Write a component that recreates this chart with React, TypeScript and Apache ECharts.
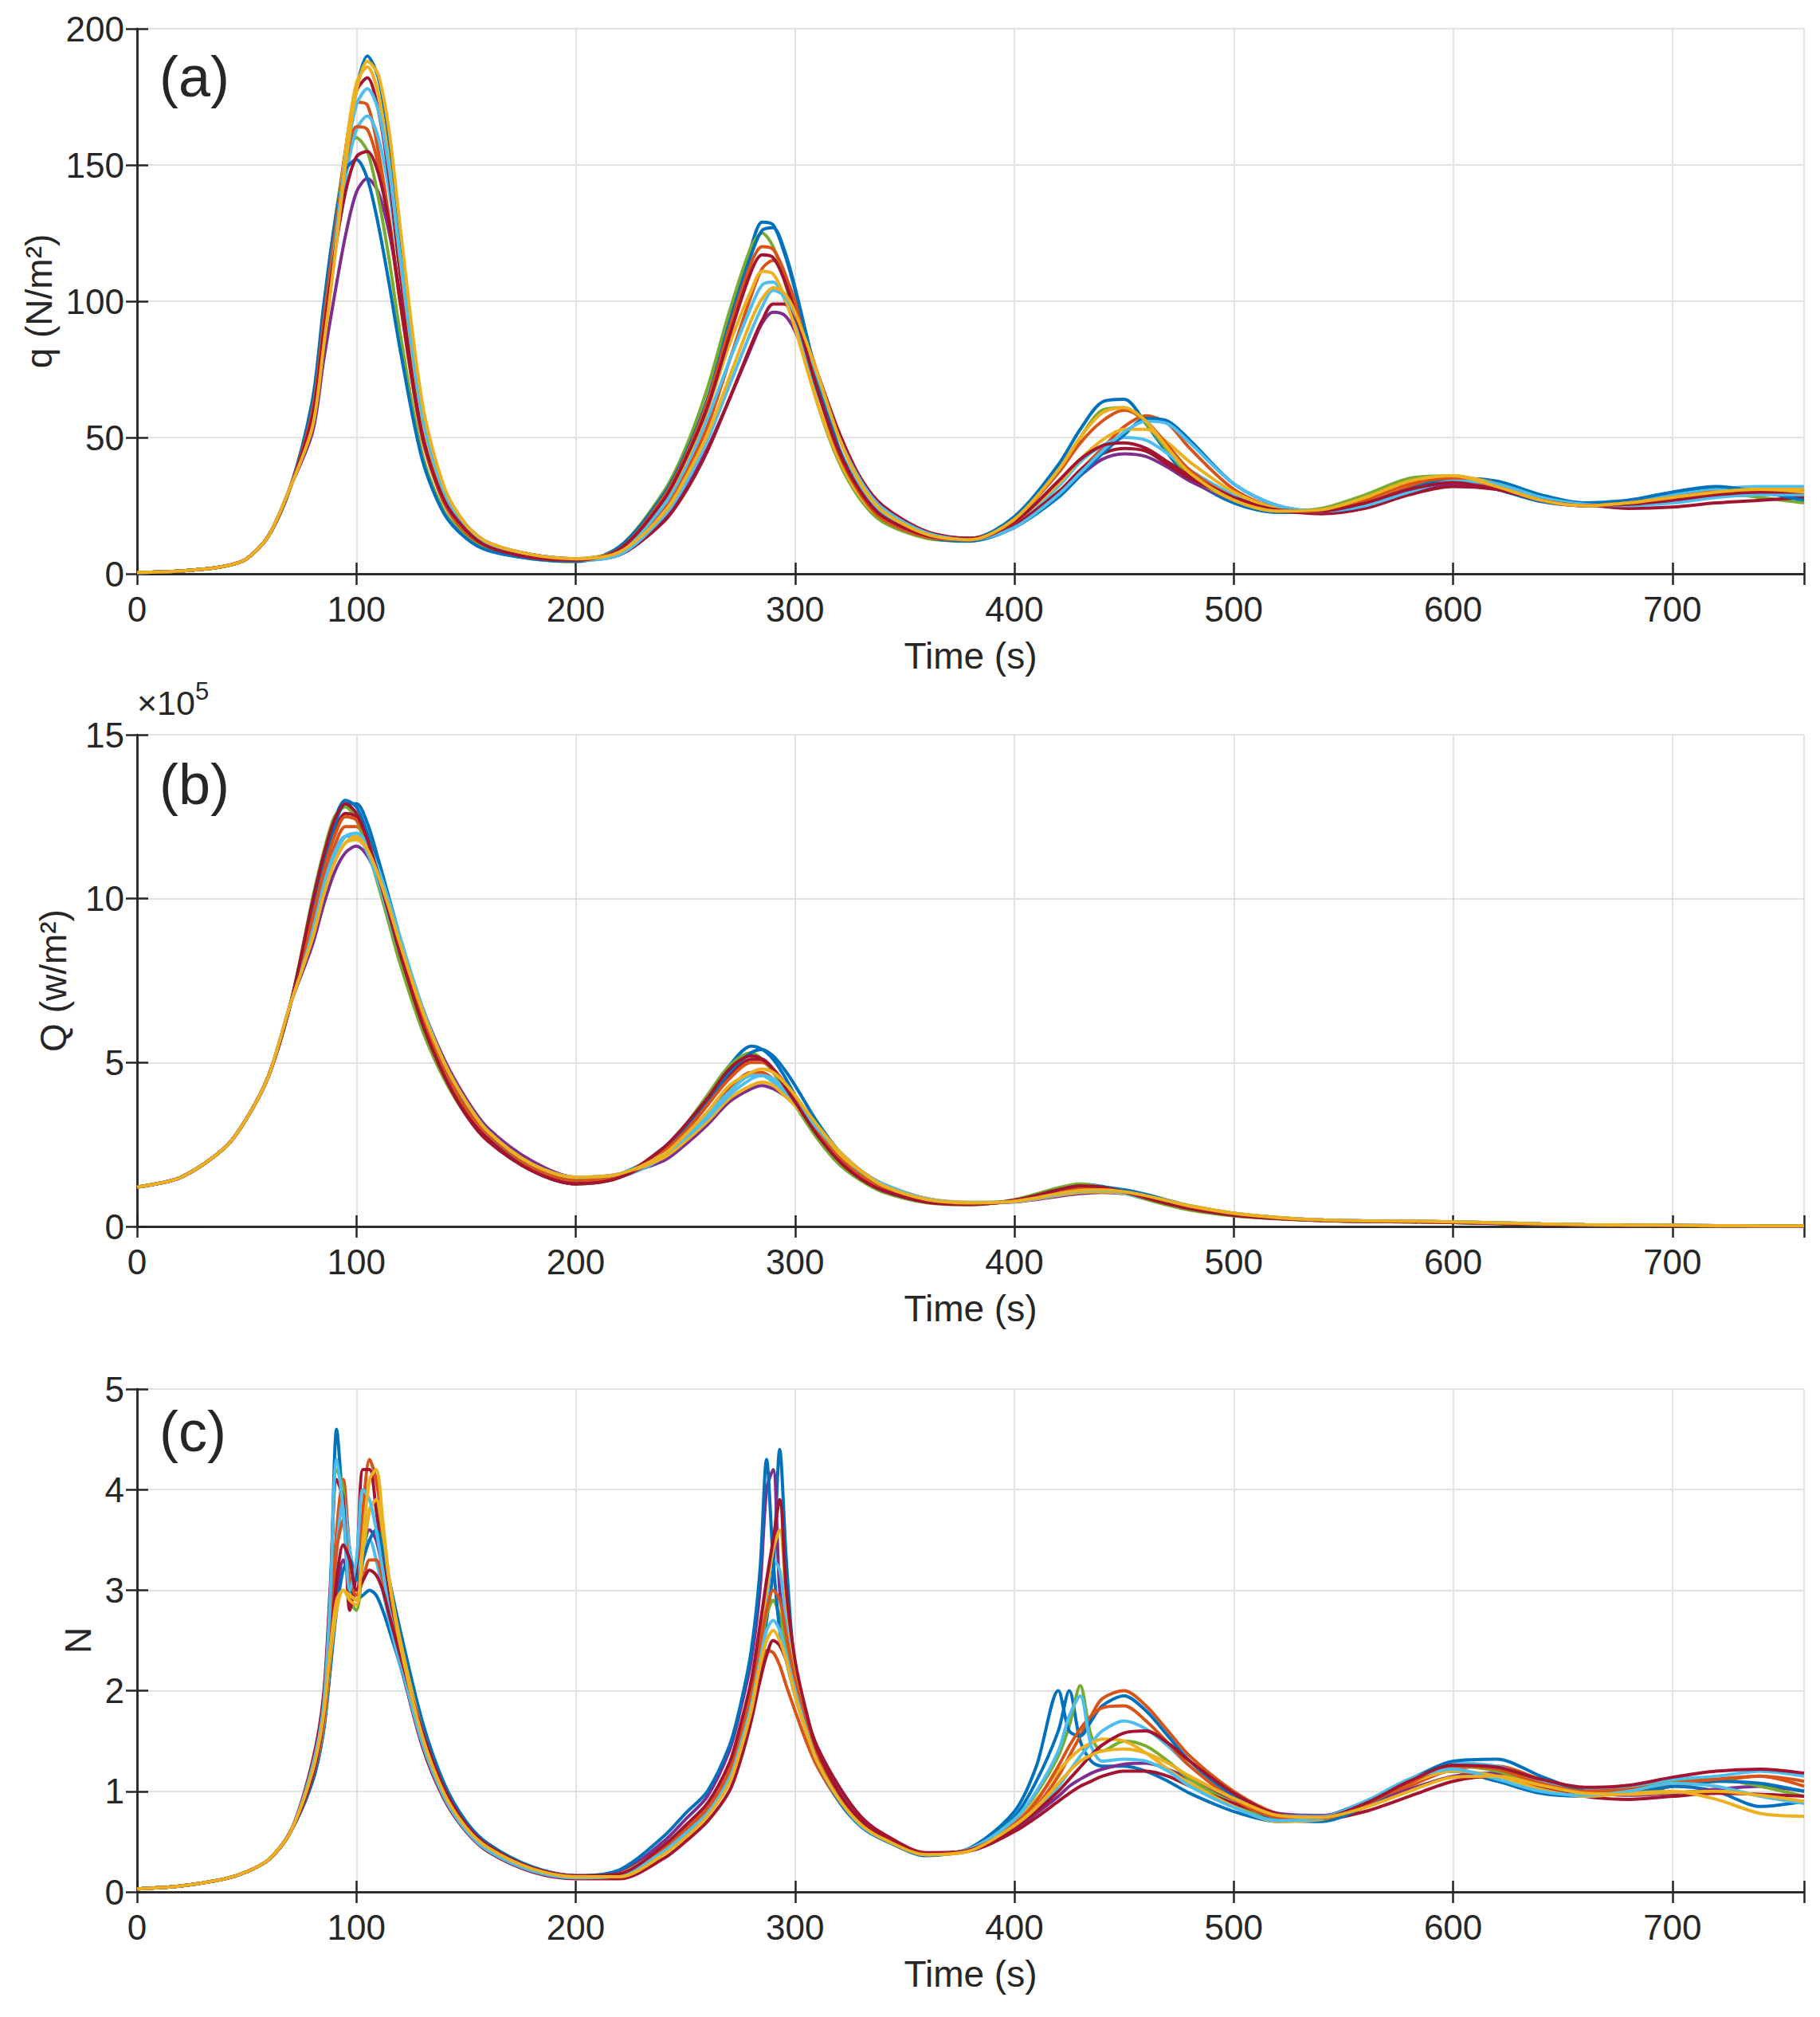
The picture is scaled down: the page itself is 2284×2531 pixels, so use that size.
import React, { useRef, useEffect } from 'react';
import * as echarts from 'echarts';

// time grid (s) shared by panels (a) and (b)
const T = [0, 20, 40, 50, 60, 70, 80, 85, 90, 95, 100, 105, 110, 115, 120, 130, 140, 150, 160, 180, 200, 220, 240, 250, 260, 270, 280, 285, 290, 295, 300, 310, 320, 330, 340, 360, 380, 400, 420, 430, 440, 450, 460, 470, 480, 500, 520, 540, 560, 580, 600, 620, 640, 660, 680, 700, 720, 740, 760];
// finer grid for panel (c)
const TC = [0, 20, 40, 50, 60, 70, 80, 85, 88, 91, 94, 97, 100, 103, 106, 109, 112, 115, 120, 130, 140, 150, 160, 180, 200, 220, 240, 250, 260, 270, 275, 280, 284, 287, 290, 293, 296, 300, 305, 310, 320, 330, 340, 360, 380, 400, 410, 420, 425, 430, 435, 440, 450, 460, 470, 480, 500, 520, 540, 560, 580, 600, 620, 640, 660, 680, 700, 720, 740, 760];

const X_TICKS = [0, 100, 200, 300, 400, 500, 600, 700];
const Q_TICKS = [0, 50, 100, 150, 200];
const HEAT_TICKS = [0, 5, 10, 15];
const N_TICKS = [0, 1, 2, 3, 4, 5];

// (a) dynamic pressure q, N/m2
const qRun1 = [0.5, 1, 2.8, 5.5, 14, 32, 55, 85, 118, 152, 178, 190, 182, 158, 122, 60, 30, 17, 11, 7, 5.5, 9, 27, 42, 62, 92, 120, 129, 128, 118, 104, 72, 46, 30, 21, 14, 13, 21, 40, 53, 63, 64, 55, 44, 35, 26, 22.5, 23, 28, 34, 35, 31, 26.5, 25, 27, 29, 31, 31, 30];
const qRun2 = [0.5, 1, 2.8, 5.5, 14, 32, 60, 92, 125, 155, 173, 172, 155, 130, 100, 50, 26, 15, 10, 6, 5, 8, 24, 37, 54, 78, 102, 112, 115, 110, 100, 74, 50, 33, 23, 15, 13, 18, 30, 38, 46, 54, 58, 55, 46, 31, 24, 23, 26, 32, 35.5, 33, 27, 25, 25.5, 27, 29, 30, 28];
const qRun3 = [0.5, 1, 2.8, 5.5, 14, 32, 52, 78, 102, 124, 140, 145, 140, 125, 102, 58, 31, 18, 11.5, 7, 5.5, 7, 20, 31, 46, 64, 83, 92, 96, 95, 89, 70, 50, 34, 24, 15, 12.5, 17, 29, 36, 42, 44, 43, 39, 34, 27, 23, 22.5, 25, 30, 33, 31, 27.5, 26, 26, 27, 28.5, 29, 31];
const qRun4 = [0.5, 1, 2.8, 5.5, 14, 32, 62, 95, 128, 152, 160, 155, 138, 115, 88, 44, 23, 14, 9, 5.5, 4.5, 10, 30, 46, 68, 96, 120, 125, 120, 108, 93, 63, 41, 27, 19, 13, 12, 20, 38, 50, 60, 61, 55, 45, 36, 27, 23, 24, 29, 35, 36, 32, 27, 25, 26, 28, 30, 28, 26];
const qRun5 = [0.5, 1, 2.8, 5.5, 14, 32, 57, 86, 117, 145, 163, 168, 160, 140, 110, 56, 29, 17, 11, 6.5, 5, 8, 25, 39, 57, 78, 98, 106, 107, 101, 91, 67, 46, 31, 22, 14, 12.5, 18, 32, 41, 47, 50, 49, 44, 38, 29, 24, 23, 26, 31, 34, 32, 28, 26, 27, 29, 31, 32, 32];
const qRun6 = [0.5, 1, 2.8, 5.5, 14, 32, 58, 88, 122, 155, 177, 182, 170, 145, 110, 54, 28, 16, 10.5, 6.5, 5, 7, 19, 30, 45, 64, 84, 93, 99, 99, 94, 74, 52, 35, 25, 15.5, 13, 18, 30, 38, 44, 46, 45, 40, 35, 28, 23.5, 22, 24, 29, 32, 31, 28, 25.5, 24, 24.5, 26, 27, 28];
const qRun7 = [0.5, 1, 2.8, 5.5, 14, 32, 64, 98, 128, 148, 152, 145, 128, 106, 82, 42, 22, 13, 8.5, 5.5, 4.5, 10, 29, 44, 64, 92, 117, 126, 127, 119, 105, 72, 46, 30, 21, 13.5, 12, 17, 28, 36, 44, 51, 57, 56, 49, 33, 25, 23, 25, 31, 35, 34, 29, 26, 27, 30, 32, 30, 27];
const qRun8 = [0.5, 1, 2.8, 5.5, 14, 32, 56, 86, 120, 155, 180, 186, 176, 150, 115, 57, 29, 17, 11, 6.5, 5.5, 9, 27, 41, 60, 84, 104, 111, 110, 102, 90, 63, 42, 28, 20, 13.5, 12.5, 19, 33, 42, 49, 53, 53, 48, 41, 30, 24, 23, 27, 33, 36, 33, 28, 25, 26, 28, 30, 31, 31];
const qRun9 = [0.5, 1, 2.8, 5.5, 14, 32, 60, 92, 124, 150, 164, 163, 150, 128, 99, 50, 26, 15, 10, 6, 5, 9, 28, 43, 63, 90, 114, 120, 119, 111, 98, 68, 44, 29, 20, 13.5, 12.5, 20, 37, 48, 56, 60, 56, 47, 38, 28, 23, 23, 27, 33, 35, 32, 27, 25, 26, 28, 30, 30, 29];
const qRun10 = [0.5, 1, 2.8, 5.5, 14, 32, 56, 86, 119, 151, 172, 178, 170, 148, 116, 58, 30, 17, 11, 6.5, 5, 7, 21, 33, 49, 69, 89, 98, 104, 102, 95, 73, 50, 34, 24, 15, 12.5, 17, 29, 37, 45, 52, 56, 55, 48, 33, 25, 23, 25, 30, 34, 33, 28, 25.5, 25, 26, 28, 29, 29];
const qRun11 = [0.5, 1, 2.8, 5.5, 14, 32, 58, 88, 117, 140, 153, 155, 147, 128, 100, 51, 27, 16, 10, 6, 5, 9, 27, 42, 61, 87, 111, 117, 116, 108, 96, 68, 45, 30, 21, 14, 12.5, 19, 34, 42, 47, 48, 46, 41, 36, 28, 23.5, 23, 26, 31, 33.5, 31, 27, 25, 25.5, 27, 29, 30, 30];
const qRun12 = [0.5, 1, 2.8, 5.5, 14, 32, 54, 83, 115, 150, 177, 188, 183, 162, 127, 63, 32, 18, 11.5, 7, 5.5, 8, 22, 35, 51, 72, 93, 101, 105, 103, 96, 74, 50, 33, 23, 14.5, 12.5, 20, 38, 50, 59, 61, 56, 46, 37, 27, 23, 23.5, 28, 34, 36, 32, 27, 25, 26, 28, 30, 31, 30];

// (b) heat flux Q, x10^5 W/m2
const heatRun1 = [1.2, 1.5, 2.4, 3.3, 4.6, 6.8, 9.8, 11.2, 12.4, 13.0, 12.8, 12.0, 10.9, 9.7, 8.5, 6.3, 4.7, 3.5, 2.7, 1.7, 1.3, 1.5, 2.3, 3.0, 3.9, 4.9, 5.5, 5.4, 5.1, 4.6, 4.0, 2.9, 2.1, 1.5, 1.1, 0.75, 0.68, 0.8, 1.15, 1.28, 1.22, 1.05, 0.86, 0.68, 0.53, 0.34, 0.24, 0.18, 0.15, 0.14, 0.12, 0.09, 0.06, 0.045, 0.035, 0.025, 0.02, 0.015, 0.015];
const heatRun2 = [1.2, 1.5, 2.4, 3.3, 4.6, 6.8, 9.2, 10.5, 11.6, 12.2, 12.2, 11.6, 10.6, 9.5, 8.4, 6.4, 4.9, 3.7, 2.9, 1.9, 1.5, 1.55, 2.1, 2.7, 3.4, 4.2, 4.7, 4.7, 4.5, 4.2, 3.8, 2.9, 2.2, 1.6, 1.2, 0.8, 0.7, 0.76, 1.0, 1.1, 1.12, 1.05, 0.92, 0.76, 0.6, 0.38, 0.26, 0.19, 0.16, 0.15, 0.13, 0.1, 0.07, 0.05, 0.04, 0.03, 0.02, 0.02, 0.02];
const heatRun3 = [1.2, 1.5, 2.4, 3.3, 4.6, 6.8, 8.6, 9.8, 10.8, 11.4, 11.6, 11.3, 10.6, 9.7, 8.7, 6.7, 5.1, 3.9, 3.0, 2.0, 1.5, 1.6, 2.0, 2.5, 3.1, 3.8, 4.2, 4.3, 4.2, 4.0, 3.7, 3.0, 2.3, 1.7, 1.3, 0.85, 0.72, 0.75, 0.92, 1.0, 1.04, 1.0, 0.9, 0.77, 0.62, 0.4, 0.27, 0.2, 0.17, 0.16, 0.14, 0.11, 0.08, 0.055, 0.045, 0.035, 0.025, 0.02, 0.02];
const heatRun4 = [1.2, 1.5, 2.4, 3.3, 4.6, 6.8, 10.0, 11.4, 12.5, 12.8, 12.4, 11.5, 10.4, 9.2, 8.0, 6.0, 4.5, 3.4, 2.6, 1.7, 1.3, 1.5, 2.4, 3.1, 4.0, 4.9, 5.3, 5.1, 4.7, 4.2, 3.7, 2.7, 1.9, 1.4, 1.05, 0.72, 0.66, 0.82, 1.18, 1.3, 1.2, 1.02, 0.83, 0.65, 0.5, 0.32, 0.23, 0.18, 0.15, 0.14, 0.12, 0.09, 0.06, 0.045, 0.035, 0.025, 0.02, 0.015, 0.015];
const heatRun5 = [1.2, 1.5, 2.4, 3.3, 4.6, 6.8, 9.1, 10.4, 11.4, 11.9, 11.9, 11.4, 10.5, 9.4, 8.3, 6.3, 4.8, 3.6, 2.8, 1.8, 1.4, 1.5, 2.1, 2.7, 3.4, 4.1, 4.6, 4.6, 4.4, 4.1, 3.7, 2.9, 2.1, 1.6, 1.2, 0.8, 0.7, 0.77, 1.02, 1.12, 1.1, 1.0, 0.87, 0.72, 0.57, 0.37, 0.26, 0.19, 0.16, 0.15, 0.13, 0.1, 0.07, 0.05, 0.04, 0.03, 0.02, 0.02, 0.02];
const heatRun6 = [1.2, 1.5, 2.4, 3.3, 4.6, 6.8, 9.5, 10.9, 12.0, 12.6, 12.5, 11.8, 10.8, 9.6, 8.4, 6.3, 4.7, 3.5, 2.7, 1.7, 1.3, 1.5, 2.2, 2.9, 3.7, 4.6, 5.1, 5.1, 4.8, 4.4, 3.9, 2.9, 2.1, 1.5, 1.1, 0.76, 0.68, 0.79, 1.08, 1.2, 1.18, 1.06, 0.9, 0.73, 0.57, 0.36, 0.25, 0.19, 0.16, 0.15, 0.13, 0.1, 0.07, 0.05, 0.04, 0.03, 0.02, 0.02, 0.02];
const heatRun7 = [1.2, 1.5, 2.4, 3.3, 4.6, 6.8, 9.6, 11.0, 12.2, 12.9, 12.9, 12.3, 11.2, 10.0, 8.8, 6.6, 4.9, 3.7, 2.8, 1.8, 1.4, 1.6, 2.3, 3.0, 3.8, 4.7, 5.3, 5.4, 5.2, 4.8, 4.3, 3.2, 2.3, 1.7, 1.25, 0.82, 0.72, 0.78, 1.05, 1.18, 1.2, 1.12, 0.98, 0.8, 0.63, 0.4, 0.27, 0.2, 0.17, 0.16, 0.14, 0.11, 0.08, 0.055, 0.045, 0.035, 0.025, 0.02, 0.02];
const heatRun8 = [1.2, 1.5, 2.4, 3.3, 4.6, 6.8, 8.8, 10.1, 11.1, 11.7, 11.9, 11.6, 10.8, 9.8, 8.7, 6.6, 5.0, 3.8, 2.9, 1.9, 1.5, 1.6, 2.1, 2.6, 3.2, 3.9, 4.3, 4.4, 4.3, 4.0, 3.7, 2.9, 2.2, 1.7, 1.3, 0.85, 0.74, 0.76, 0.95, 1.04, 1.06, 1.02, 0.92, 0.78, 0.63, 0.41, 0.28, 0.2, 0.17, 0.16, 0.14, 0.11, 0.08, 0.055, 0.045, 0.035, 0.025, 0.02, 0.02];
const heatRun9 = [1.2, 1.5, 2.4, 3.3, 4.6, 6.8, 9.4, 10.8, 11.9, 12.5, 12.4, 11.8, 10.8, 9.6, 8.4, 6.4, 4.8, 3.6, 2.8, 1.8, 1.4, 1.55, 2.3, 2.9, 3.7, 4.5, 5.0, 5.0, 4.8, 4.4, 3.9, 2.9, 2.1, 1.55, 1.15, 0.78, 0.69, 0.78, 1.05, 1.15, 1.15, 1.05, 0.9, 0.74, 0.58, 0.37, 0.26, 0.19, 0.16, 0.15, 0.13, 0.1, 0.07, 0.05, 0.04, 0.03, 0.02, 0.02, 0.02];
const heatRun10 = [1.2, 1.5, 2.4, 3.3, 4.6, 6.8, 8.9, 10.2, 11.3, 11.9, 12.0, 11.7, 10.9, 9.9, 8.8, 6.7, 5.0, 3.8, 2.9, 1.9, 1.5, 1.6, 2.2, 2.7, 3.3, 4.0, 4.5, 4.6, 4.5, 4.2, 3.8, 3.0, 2.3, 1.7, 1.3, 0.84, 0.73, 0.76, 0.98, 1.08, 1.1, 1.04, 0.92, 0.77, 0.61, 0.39, 0.27, 0.2, 0.17, 0.16, 0.14, 0.11, 0.08, 0.055, 0.045, 0.035, 0.025, 0.02, 0.02];
const heatRun11 = [1.2, 1.5, 2.4, 3.3, 4.6, 6.8, 9.9, 11.3, 12.4, 12.9, 12.6, 11.8, 10.7, 9.5, 8.3, 6.2, 4.6, 3.4, 2.6, 1.7, 1.3, 1.5, 2.4, 3.1, 3.9, 4.8, 5.2, 5.1, 4.8, 4.3, 3.8, 2.8, 2.0, 1.45, 1.1, 0.74, 0.67, 0.8, 1.12, 1.24, 1.2, 1.05, 0.87, 0.69, 0.54, 0.34, 0.24, 0.18, 0.15, 0.14, 0.12, 0.09, 0.06, 0.045, 0.035, 0.025, 0.02, 0.015, 0.015];
const heatRun12 = [1.2, 1.5, 2.4, 3.3, 4.6, 6.8, 8.8, 10.1, 11.1, 11.7, 11.8, 11.5, 10.7, 9.7, 8.6, 6.6, 5.0, 3.8, 2.9, 1.9, 1.5, 1.6, 2.2, 2.8, 3.5, 4.3, 4.7, 4.8, 4.7, 4.4, 4.0, 3.1, 2.3, 1.7, 1.25, 0.82, 0.72, 0.77, 1.0, 1.1, 1.12, 1.06, 0.94, 0.78, 0.62, 0.4, 0.27, 0.2, 0.17, 0.16, 0.14, 0.11, 0.08, 0.055, 0.045, 0.035, 0.025, 0.02, 0.02];

// (c) load factor N
const nRun1 = [0.03, 0.06, 0.13, 0.2, 0.32, 0.6, 1.2, 1.8, 2.8, 4.6, 3.8, 3.1, 2.9, 2.95, 3.0, 2.95, 2.8, 2.6, 2.25, 1.5, 0.95, 0.6, 0.42, 0.22, 0.15, 0.17, 0.42, 0.6, 0.8, 1.15, 1.45, 1.85, 2.3, 2.7, 3.2, 4.4, 3.3, 2.2, 1.75, 1.4, 0.98, 0.7, 0.56, 0.38, 0.43, 0.75, 1.1, 1.6, 2.0, 1.5, 1.3, 1.25, 1.25, 1.2, 1.1, 0.98, 0.8, 0.7, 0.74, 0.9, 1.1, 1.2, 1.1, 0.98, 0.95, 1.0, 1.05, 1.0, 0.85, 0.9];
const nRun2 = [0.03, 0.06, 0.13, 0.2, 0.32, 0.6, 1.15, 1.7, 2.5, 3.6, 4.1, 3.4, 3.1, 3.8, 4.3, 4.1, 3.6, 3.0, 2.4, 1.55, 1.0, 0.65, 0.44, 0.23, 0.15, 0.15, 0.38, 0.55, 0.76, 1.1, 1.4, 1.8, 2.2, 2.4, 2.38, 2.25, 2.05, 1.8, 1.5, 1.25, 0.9, 0.66, 0.53, 0.37, 0.42, 0.66, 0.85, 1.15, 1.35, 1.55, 1.75, 1.92, 2.0, 1.85, 1.6, 1.35, 1.0, 0.78, 0.74, 0.85, 1.05, 1.22, 1.25, 1.12, 1.0, 0.98, 1.05, 1.1, 1.15, 1.05];
const nRun3 = [0.03, 0.06, 0.13, 0.2, 0.32, 0.6, 1.1, 1.6, 2.2, 2.9, 3.3, 3.1, 3.0, 3.4, 3.6, 3.5, 3.2, 2.8, 2.3, 1.55, 1.0, 0.66, 0.45, 0.24, 0.16, 0.2, 0.5, 0.72, 0.95, 1.4, 1.8, 2.3, 3.0, 4.0, 4.2, 3.0, 2.6, 2.15, 1.7, 1.35, 0.93, 0.67, 0.53, 0.37, 0.41, 0.62, 0.78, 0.95, 1.05, 1.12, 1.18, 1.22, 1.27, 1.28, 1.22, 1.12, 0.92, 0.78, 0.76, 0.86, 1.02, 1.15, 1.18, 1.1, 1.0, 0.96, 0.98, 1.02, 1.05, 1.0];
const nRun4 = [0.03, 0.06, 0.13, 0.2, 0.32, 0.6, 1.25, 1.9, 2.9, 4.2, 4.0, 2.9, 2.8, 3.3, 3.8, 3.9, 3.5, 3.0, 2.4, 1.5, 0.95, 0.62, 0.42, 0.22, 0.14, 0.18, 0.44, 0.63, 0.84, 1.22, 1.55, 1.95, 2.4, 2.75, 2.9, 2.75, 2.45, 2.05, 1.65, 1.32, 0.94, 0.68, 0.54, 0.37, 0.43, 0.72, 0.98, 1.35, 1.65, 2.05, 1.55, 1.4, 1.5, 1.45, 1.3, 1.12, 0.88, 0.72, 0.72, 0.88, 1.1, 1.25, 1.2, 1.05, 0.98, 1.02, 1.1, 1.12, 1.05, 0.95];
const nRun5 = [0.03, 0.06, 0.13, 0.2, 0.32, 0.6, 1.2, 1.75, 2.5, 3.4, 3.9, 3.4, 3.1, 3.4, 3.5, 3.3, 3.0, 2.7, 2.25, 1.5, 0.97, 0.63, 0.43, 0.22, 0.15, 0.16, 0.4, 0.58, 0.8, 1.15, 1.5, 1.9, 2.4, 2.9, 3.3, 3.2, 2.7, 2.2, 1.75, 1.4, 1.0, 0.72, 0.57, 0.38, 0.42, 0.65, 0.82, 1.05, 1.2, 1.35, 1.48, 1.6, 1.7, 1.62, 1.45, 1.25, 0.95, 0.76, 0.75, 0.9, 1.12, 1.28, 1.25, 1.1, 1.02, 1.05, 1.12, 1.15, 1.2, 1.15];
const nRun6 = [0.03, 0.06, 0.13, 0.2, 0.32, 0.6, 1.3, 1.95, 3.0, 4.1, 3.9, 2.8, 3.2, 4.2, 4.2, 3.8, 3.3, 2.9, 2.3, 1.45, 0.92, 0.6, 0.4, 0.2, 0.13, 0.13, 0.33, 0.5, 0.7, 1.0, 1.3, 1.7, 2.1, 2.35, 2.5, 2.45, 2.3, 2.05, 1.75, 1.45, 1.05, 0.75, 0.58, 0.39, 0.41, 0.6, 0.74, 0.9, 0.98, 1.05, 1.1, 1.15, 1.2, 1.2, 1.15, 1.05, 0.88, 0.75, 0.72, 0.8, 0.95, 1.1, 1.15, 1.05, 0.95, 0.92, 0.95, 0.98, 0.97, 0.95];
const nRun7 = [0.03, 0.06, 0.13, 0.2, 0.32, 0.6, 1.1, 1.6, 2.2, 2.8, 3.2, 3.3, 3.1, 3.3, 3.5, 3.6, 3.4, 3.1, 2.6, 1.7, 1.08, 0.7, 0.48, 0.25, 0.16, 0.22, 0.55, 0.78, 1.0, 1.45, 1.85, 2.4, 3.2, 4.3, 3.3, 2.6, 2.3, 1.95, 1.6, 1.3, 0.9, 0.65, 0.52, 0.36, 0.44, 0.8, 1.25, 2.0, 1.6, 1.55, 1.7, 1.85, 1.95, 1.8, 1.55, 1.3, 0.95, 0.72, 0.7, 0.85, 1.1, 1.3, 1.32, 1.15, 1.0, 0.98, 1.05, 1.1, 1.08, 1.0];
const nRun8 = [0.03, 0.06, 0.13, 0.2, 0.32, 0.6, 1.15, 1.65, 2.3, 2.8, 3.0, 2.95, 2.9, 3.4, 3.8, 3.9, 3.6, 3.1, 2.5, 1.6, 1.02, 0.66, 0.45, 0.23, 0.15, 0.18, 0.45, 0.64, 0.86, 1.26, 1.62, 2.05, 2.6, 3.0, 3.4, 3.6, 2.9, 2.25, 1.75, 1.38, 0.97, 0.7, 0.55, 0.37, 0.43, 0.7, 0.92, 1.2, 1.32, 1.42, 1.48, 1.52, 1.5, 1.38, 1.22, 1.08, 0.85, 0.7, 0.72, 0.88, 1.08, 1.2, 1.15, 1.02, 0.95, 0.98, 1.0, 0.92, 0.78, 0.75];
const nRun9 = [0.03, 0.06, 0.13, 0.2, 0.32, 0.6, 1.2, 1.8, 2.6, 3.4, 3.7, 3.1, 2.95, 3.1, 3.3, 3.3, 3.1, 2.8, 2.35, 1.55, 0.98, 0.64, 0.44, 0.23, 0.15, 0.17, 0.43, 0.62, 0.83, 1.2, 1.55, 1.95, 2.45, 2.8, 3.0, 2.9, 2.55, 2.1, 1.7, 1.36, 0.96, 0.69, 0.55, 0.38, 0.42, 0.68, 0.9, 1.25, 1.45, 1.62, 1.75, 1.83, 1.85, 1.7, 1.48, 1.25, 0.92, 0.74, 0.73, 0.87, 1.08, 1.25, 1.22, 1.08, 1.0, 1.02, 1.08, 1.12, 1.15, 1.1];
const nRun10 = [0.03, 0.06, 0.13, 0.2, 0.32, 0.6, 1.25, 1.85, 2.9, 4.3, 3.8, 3.0, 3.3, 4.0, 3.9, 3.6, 3.2, 2.8, 2.3, 1.48, 0.94, 0.61, 0.41, 0.21, 0.14, 0.16, 0.4, 0.58, 0.78, 1.12, 1.45, 1.85, 2.3, 2.6, 2.7, 2.6, 2.35, 2.0, 1.62, 1.3, 0.92, 0.66, 0.53, 0.37, 0.43, 0.72, 1.0, 1.4, 1.75, 1.95, 1.45, 1.3, 1.32, 1.3, 1.2, 1.05, 0.84, 0.71, 0.73, 0.9, 1.12, 1.22, 1.12, 1.0, 0.96, 1.0, 1.08, 1.05, 0.95, 0.88];
const nRun11 = [0.03, 0.06, 0.13, 0.2, 0.32, 0.6, 1.15, 1.7, 2.4, 3.1, 3.45, 3.3, 3.0, 3.1, 3.2, 3.15, 3.0, 2.75, 2.35, 1.6, 1.03, 0.67, 0.46, 0.24, 0.16, 0.18, 0.46, 0.66, 0.88, 1.28, 1.65, 2.1, 2.65, 3.1, 3.5, 3.9, 3.0, 2.3, 1.8, 1.42, 0.99, 0.71, 0.56, 0.38, 0.42, 0.64, 0.8, 1.0, 1.12, 1.24, 1.36, 1.46, 1.58, 1.6, 1.48, 1.3, 0.98, 0.77, 0.74, 0.88, 1.1, 1.26, 1.24, 1.12, 1.04, 1.06, 1.14, 1.2, 1.22, 1.18];
const nRun12 = [0.03, 0.06, 0.13, 0.2, 0.32, 0.6, 1.2, 1.75, 2.4, 2.9, 3.0, 2.9, 2.85, 3.5, 4.1, 4.2, 3.7, 3.1, 2.45, 1.55, 0.98, 0.64, 0.44, 0.23, 0.15, 0.15, 0.37, 0.54, 0.75, 1.08, 1.4, 1.8, 2.25, 2.5, 2.6, 2.5, 2.3, 1.95, 1.6, 1.3, 0.92, 0.67, 0.53, 0.37, 0.41, 0.66, 0.84, 1.08, 1.2, 1.3, 1.36, 1.4, 1.42, 1.38, 1.28, 1.15, 0.93, 0.76, 0.74, 0.84, 1.0, 1.14, 1.15, 1.06, 0.98, 0.97, 0.99, 1.0, 0.96, 0.9];

// MATLAB default colour order, last one drawn on top
const PALETTE = ['#0072BD', '#D95319', '#7E2F8E', '#77AC30', '#4DBEEE', '#A2142F', '#0072BD', '#EDB120', '#D95319', '#4DBEEE', '#A2142F', '#EDB120'];

const FONT = 'Liberation Sans, Arial, sans-serif';
const INK = '#262626';
const GRID_COLOR = '#e2e2e2';

const panels = [
  { runs: [qRun1, qRun2, qRun3, qRun4, qRun5, qRun6, qRun7, qRun8, qRun9, qRun10, qRun11, qRun12], time: T, ticks: Q_TICKS, name: 'q (N/m²)', nameGap: 88, top: 28, height: 684 },
  { runs: [heatRun1, heatRun2, heatRun3, heatRun4, heatRun5, heatRun6, heatRun7, heatRun8, heatRun9, heatRun10, heatRun11, heatRun12], time: T, ticks: HEAT_TICKS, name: 'Q (w/m²)', nameGap: 82, top: 914, height: 617 },
  { runs: [nRun1, nRun2, nRun3, nRun4, nRun5, nRun6, nRun7, nRun8, nRun9, nRun10, nRun11, nRun12], time: TC, ticks: N_TICKS, name: 'N', nameGap: 48, top: 1735, height: 631 },
];

const tickStyle = { inside: true, length: 14, lineStyle: { color: INK, width: 2.5 } };
const lineStyle = { show: true, lineStyle: { color: INK, width: 2.5 } };

const App: React.FC = () => {
  const chartRef = useRef<HTMLDivElement>(null);

  useEffect(() => {
    if (!chartRef.current) return;
    const chart = echarts.init(chartRef.current, null, { renderer: 'svg' });

    const grid: any[] = [];
    const xAxis: any[] = [];
    const yAxis: any[] = [];
    const series: any[] = [];
    const xMin = X_TICKS[0];
    const xStep = X_TICKS[1] - X_TICKS[0];

    panels.forEach((p, i) => {
      grid.push({ left: 164, right: 12, top: p.top, height: p.height });
      const yMin = p.ticks[0];
      const yMax = p.ticks[p.ticks.length - 1];
      const yStep = p.ticks[1] - p.ticks[0];
      xAxis.push({
        type: 'value', gridIndex: i, position: 'bottom', min: xMin, max: 760, interval: xStep,
        name: 'Time (s)', nameLocation: 'middle', nameGap: 80,
        nameTextStyle: { fontSize: 46, color: INK, fontFamily: FONT },
        axisLine: lineStyle, axisTick: tickStyle,
        axisLabel: { fontSize: 44, color: INK, fontFamily: FONT, margin: 22, formatter: (v: number) => (X_TICKS.includes(v) ? String(v) : '') },
        splitLine: { show: true, lineStyle: { color: GRID_COLOR, width: 2 } },
      });
      xAxis.push({
        type: 'value', gridIndex: i, position: 'top', min: xMin, max: 760, interval: xStep,
        axisLine: lineStyle, axisTick: tickStyle, axisLabel: { show: false }, splitLine: { show: false },
      });
      yAxis.push({
        type: 'value', gridIndex: i, position: 'left', min: yMin, max: yMax, interval: yStep,
        name: p.name, nameLocation: 'middle', nameGap: p.nameGap, nameRotate: 90,
        nameTextStyle: { fontSize: 46, color: INK, fontFamily: FONT },
        axisLine: lineStyle, axisTick: tickStyle,
        axisLabel: { fontSize: 44, color: INK, fontFamily: FONT, margin: 16 },
        splitLine: { show: true, lineStyle: { color: GRID_COLOR, width: 2 } },
      });
      yAxis.push({
        type: 'value', gridIndex: i, position: 'right', min: yMin, max: yMax, interval: yStep,
        axisLine: lineStyle, axisTick: tickStyle, axisLabel: { show: false }, splitLine: { show: false },
      });
      p.runs.forEach((run, k) => {
        series.push({
          type: 'line', xAxisIndex: i * 2, yAxisIndex: i * 2, silent: true,
          data: p.time.map((t, j) => [t, run[j]]),
          showSymbol: false, smooth: 0.3,
          lineStyle: { width: 4, color: PALETTE[k] },
        });
      });
    });

    chart.setOption({
      animation: false,
      backgroundColor: '#ffffff',
      grid, xAxis, yAxis, series,
      graphic: [
        { type: 'text', left: 192, top: 52, style: { text: '(a)', fontSize: 72, fill: INK, fontFamily: FONT } },
        { type: 'text', left: 192, top: 940, style: { text: '(b)', fontSize: 72, fill: INK, fontFamily: FONT } },
        { type: 'text', left: 192, top: 1752, style: { text: '(c)', fontSize: 72, fill: INK, fontFamily: FONT } },
        {
          type: 'text', left: 164, top: 844,
          style: {
            text: '{m|×10}{e|5}', fill: INK, fontFamily: FONT,
            rich: {
              m: { fontSize: 43, fill: INK, fontFamily: FONT, verticalAlign: 'bottom' },
              e: { fontSize: 31, fill: INK, fontFamily: FONT, verticalAlign: 'top', padding: [0, 0, 20, 0] },
            },
          },
        },
      ],
    });

    return () => {
      chart.dispose();
    };
  }, []);

  return <div ref={chartRef} style={{ width: '2268px', height: '2515px' }} />;
};

export default App;
